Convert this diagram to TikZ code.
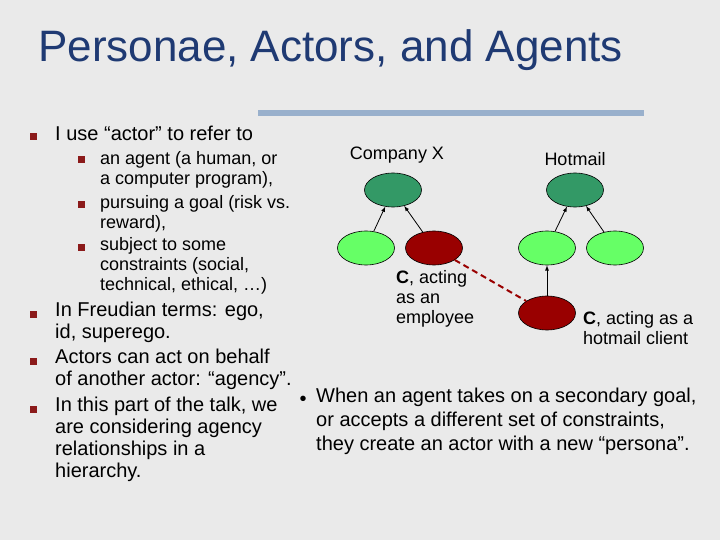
\documentclass[tikz,border=0pt]{standalone}
\usepackage{fontspec}
\setmainfont{Liberation Sans}
\usetikzlibrary{shapes.geometric}
\definecolor{bg}{HTML}{EAEAEA}
\definecolor{ttl}{HTML}{1F3A73}
\definecolor{bul}{HTML}{8B1A1A}
\definecolor{dkg}{HTML}{339966}
\definecolor{ltg}{HTML}{66FF66}
\definecolor{red}{HTML}{990000}
\definecolor{barc}{HTML}{99B0CC}
\begin{document}
\begin{tikzpicture}[x=1pt,y=-1pt,
  ell/.style={ellipse,draw=black,line width=0.6pt,minimum width=57pt,minimum height=34pt,inner sep=0pt},
  sq/.style={fill=bul,minimum size=7pt,inner sep=0pt},
  main/.style={anchor=north west,align=left,inner sep=0pt,font=\fontsize{20}{22}\selectfont},
  sub/.style={anchor=north west,align=left,inner sep=0pt,font=\fontsize{18}{20}\selectfont},
  lbl/.style={align=left,inner sep=0pt,font=\fontsize{18}{20}\selectfont},
  arr/.style={-latex,line width=0.8pt}]
\fill[bg] (0,0) rectangle (720,540);
\useasboundingbox (0,0) rectangle (720,540);
\node[anchor=west,text=ttl,font=\fontsize{44}{48}\selectfont,inner sep=0pt] (title) at (38,50) {Personae, Actors, and Agents};
\fill[barc] (258,110.5) rectangle (644,116);
% left bullets
\node[sq] (b1) at (33,137) {};
\node[main] (t1) at (55,126) {I use “actor” to refer to};
\node[sq] (s1) at (81,160) {};
\node[sub] (u1) at (100,151) {an agent (a human, or\\a computer program),};
\node[sq] (s2) at (81,205) {};
\node[sub] (u2) at (100,195) {pursuing a goal (risk vs.\\reward),};
\node[sq] (s3) at (81,247) {};
\node[sub] (u3) at (100,237) {subject to some\\constraints (social,\\technical, ethical, …)};
\node[sq] (b2) at (33,314) {};
\node[main] (t2) at (55,302) {In Freudian terms: ego,\\id, superego.};
\node[sq] (b3) at (33,361) {};
\node[main] (t3) at (55,349) {Actors can act on behalf\\of another actor: “agency”.};
\node[sq] (b4) at (33,409) {};
\node[main] (t4) at (55,397) {In this part of the talk, we\\are considering agency\\relationships in a\\hierarchy.};
% right bullet
\node[inner sep=0pt,font=\fontsize{20}{20}\selectfont] (dot) at (303,401) {•};
\node[main,font=\fontsize{20}{24}\selectfont] (t5) at (316,388) {When an agent takes on a secondary goal,\\or accepts a different set of constraints,\\they create an actor with a new “persona”.};
% diagram
\node[lbl] (cx) at (397,155) {Company X};
\node[lbl] (hm) at (575,159) {Hotmail};
\node[ell,fill=dkg] (a) at (393,190) {};
\node[ell,fill=ltg] (a1) at (366,248) {};
\node[ell,fill=red] (a2) at (434,248) {};
\node[ell,fill=dkg] (h) at (575,190) {};
\node[ell,fill=ltg] (h1) at (547,248) {};
\node[ell,fill=ltg] (h2) at (615,248) {};
\node[ell,fill=red] (c) at (547,313) {};
\draw[arr] (a1) -- (a);
\draw[arr] (a2) -- (a);
\draw[arr] (h1) -- (h);
\draw[arr] (h2) -- (h);
\draw[arr] (c) -- (h1);
\draw[red,line width=2pt,dash pattern=on 6pt off 4pt] (a2) -- (c);
\node[lbl,anchor=north west] (cl1) at (396,270) {\textbf{C}, acting\\as an\\employee};
\node[lbl,anchor=north west] (cl2) at (583,311) {\textbf{C}, acting as a\\hotmail client};
\end{tikzpicture}
\end{document}
